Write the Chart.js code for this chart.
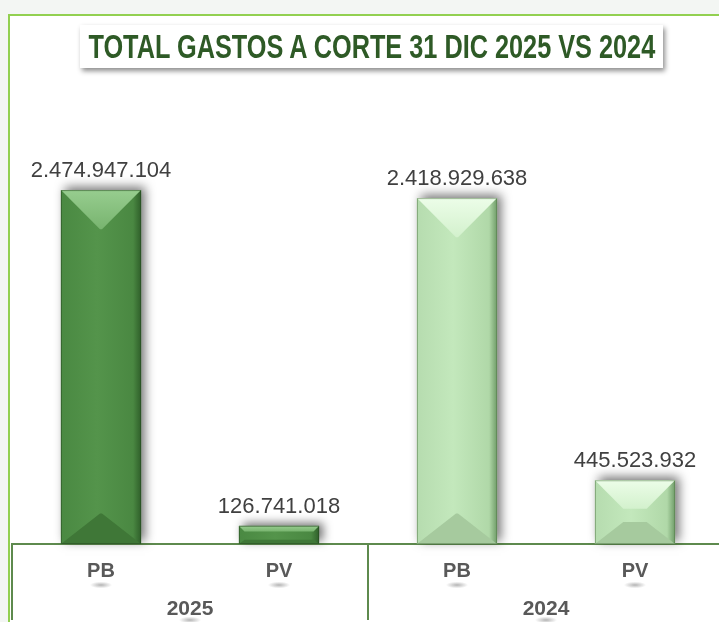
<!DOCTYPE html>
<html>
<head>
<meta charset="utf-8">
<script src="https://cdn.jsdelivr.net/npm/chart.js@4.4.1/dist/chart.umd.min.js"></script>
<style>
  html, body { margin: 0; padding: 0; width: 719px; height: 622px; overflow: hidden; background: #f3f6f3; }
  #frame { position: absolute; left: 8px; top: 14px; width: 720px; height: 620px; background: #fff;
           border-top: 2px solid #92d050; border-left: 2px solid #92d050; }
  #title { position: absolute; left: 80px; top: 25px; width: 583px; height: 43px; background: #fff;
           box-shadow: 2px 3px 5px rgba(0,0,0,0.45); line-height: 43px;
           font-family: "Liberation Sans", Arial, sans-serif; font-weight: bold;
           font-size: 33px; color: #2e5a26; white-space: nowrap; }
  #title span { position: absolute; top: 0; left: 0; transform-origin: center center; }
  #wrap { position: absolute; left: 0; top: 0; width: 724px; height: 622px; }
</style>
</head>
<body>
<div id="frame"></div>
<div id="wrap"><canvas id="gastosChart"></canvas></div>
<div id="title"><span id="titleText">TOTAL GASTOS A CORTE 31 DIC 2025 VS 2024</span></div>
<script>
// Total gastos 2025 vs 2024
const categories = ['PB', 'PV', 'PB', 'PV'];
const years = ['2025', '2024'];
const gastos = [2474947104, 126741018, 2418929638, 445523932];

// titulo condensado (no hay Arial Narrow)
const titleSpan = document.getElementById('titleText');
const tw = titleSpan.offsetWidth;
titleSpan.style.left = ((583 - tw) / 2) + 'px';
titleSpan.style.transform = 'scaleX(' + (567 / tw) + ')';

// colores por barra (2025 verde oscuro, 2024 verde claro)
const dark = {
    base: '#4e8d46', body: ['#4a8942', '#54944b', '#4a8842', '#2f5f2a'],
    top: ['#97cd8f', '#78b46f'], bottom: '#3f7737', edge: 'rgba(35,70,30,0.5)'
};
const light = {
    base: '#b8e0b1', body: ['#b6dcaf', '#c3e8bc', '#b0d8a8', '#6f9c68'],
    top: ['#ecfde8', '#d3f1cd'], bottom: '#a6ca9e', edge: 'rgba(80,120,70,0.5)'
};
const barStyles = [dark, dark, light, light];

const formatNum = v => String(v).replace(/\B(?=(\d{3})+(?!\d))/g, '.');
const labelFont = '"Liberation Sans", Arial, sans-serif';

// sombra + biseles + etiquetas de valor
const bevelPlugin = {
    id: 'bevel',
    beforeDatasetsDraw(chart) {
        const ctx = chart.ctx;
        const meta = chart.getDatasetMeta(0);
        ctx.save();
        ctx.shadowColor = 'rgba(0,0,0,0.55)';
        ctx.shadowBlur = 10;
        ctx.shadowOffsetX = 4;
        ctx.shadowOffsetY = -3;
        meta.data.forEach((bar, i) => {
            ctx.fillStyle = barStyles[i].base;
            ctx.fillRect(bar.x - bar.width / 2, bar.y, bar.width, bar.base - bar.y);
        });
        ctx.restore();
    },
    afterDatasetsDraw(chart) {
        const ctx = chart.ctx;
        const meta = chart.getDatasetMeta(0);
        meta.data.forEach((bar, i) => {
            const s = barStyles[i];
            const l = bar.x - bar.width / 2, r = bar.x + bar.width / 2;
            const t = bar.y, b = bar.base;
            const w = r - l, h = b - t;
            const d = Math.max(2, Math.min(w / 2 - 1, h / 2 - 3.5));
            const db = Math.max(2, Math.min(d * 0.78, h / 2 - 3.5));
            const poly = (pts, fill) => {
                ctx.beginPath();
                ctx.moveTo(pts[0][0], pts[0][1]);
                pts.slice(1).forEach(p => ctx.lineTo(p[0], p[1]));
                ctx.closePath();
                ctx.fillStyle = fill;
                ctx.fill();
            };
            ctx.save();
            // cuerpo
            const g = ctx.createLinearGradient(l, 0, r, 0);
            g.addColorStop(0, s.body[0]);
            g.addColorStop(0.45, s.body[1]);
            g.addColorStop(0.9, s.body[2]);
            g.addColorStop(1, s.body[3]);
            ctx.fillStyle = g;
            ctx.fillRect(l, t, w, h);
            // bisel inferior
            poly([[l, b], [l + d, b - db], [r - d, b - db], [r, b]], s.bottom);
            // bisel superior
            const gt = ctx.createLinearGradient(0, t, 0, t + d);
            gt.addColorStop(0, s.top[0]);
            gt.addColorStop(1, s.top[1]);
            poly([[l, t], [r, t], [r - d, t + d], [l + d, t + d]], gt);
            ctx.strokeStyle = s.edge;
            ctx.lineWidth = 1;
            ctx.strokeRect(l + 0.5, t + 0.5, w - 1, h - 1);

            // etiqueta del valor
            ctx.fillStyle = '#404040';
            ctx.font = '22px ' + labelFont;
            ctx.textAlign = 'center';
            ctx.textBaseline = 'alphabetic';
            ctx.fillText(formatNum(gastos[i]), bar.x, t - 13);
            ctx.restore();
        });
    },
    afterDraw(chart) {
        const ctx = chart.ctx;
        const x = chart.scales.x;
        const x2 = chart.scales.x2;
        const area = chart.chartArea;
        const step = x.getPixelForValue(1) - x.getPixelForValue(0);
        const mid = (x.getPixelForValue(1) + x.getPixelForValue(2)) / 2;
        const left = x.getPixelForValue(0) - step / 2;
        ctx.save();
        // pequeñas sombras bajo las etiquetas
        const smudge = (cx, cy) => {
            const rg = ctx.createRadialGradient(cx, cy, 0, cx, cy, 11);
            rg.addColorStop(0, 'rgba(90,90,90,0.45)');
            rg.addColorStop(1, 'rgba(90,90,90,0)');
            ctx.save();
            ctx.translate(cx, cy);
            ctx.scale(1, 0.3);
            ctx.translate(-cx, -cy);
            ctx.fillStyle = rg;
            ctx.fillRect(cx - 12, cy - 12, 24, 24);
            ctx.restore();
        };
        categories.forEach((c, i) => smudge(x.getPixelForValue(i), x.top + 41));
        years.forEach((yr, i) => smudge(x2.getPixelForValue(i), x2.top + 38));
        // separadores verticales del eje de categorias agrupadas
        ctx.strokeStyle = '#5e8a4e';
        ctx.lineWidth = 2;
        [left, mid].forEach(px => {
            ctx.beginPath();
            ctx.moveTo(px, area.bottom);
            ctx.lineTo(px, chart.height - 2);
            ctx.stroke();
        });
        ctx.restore();
    }
};

const ctx = document.getElementById('gastosChart').getContext('2d');
const gastosChart = new Chart(ctx, {
    type: 'bar',
    data: {
        labels: categories,
        datasets: [{
            data: gastos,
            backgroundColor: barStyles.map(s => s.base),
            barPercentage: 0.45,
            categoryPercentage: 1
        }]
    },
    options: {
        responsive: true,
        maintainAspectRatio: false,
        animation: false,
        layout: { padding: { left: 12, right: 0, top: 115, bottom: 0 } },
        plugins: {
            legend: { display: false },
            tooltip: { enabled: false },
            title: { display: false }
        },
        scales: {
            y: {
                display: false,
                min: 0,
                max: 3000000000
            },
            x: {
                position: 'bottom',
                grid: { display: false },
                border: { display: true, color: '#5e8a4e', width: 2 },
                ticks: {
                    color: '#595959',
                    padding: 7,
                    font: { family: labelFont, size: 20, weight: 'bold' }
                },
                afterFit(scale) { scale.height = 38; }
            },
            x2: {
                type: 'category',
                labels: years,
                position: 'bottom',
                offset: true,
                grid: { display: false },
                border: { display: false },
                ticks: {
                    color: '#595959',
                    padding: 7,
                    font: { family: labelFont, size: 21, weight: 'bold' }
                },
                afterFit(scale) { scale.height = 40; }
            }
        }
    },
    plugins: [bevelPlugin]
});
</script>
</body>
</html>
